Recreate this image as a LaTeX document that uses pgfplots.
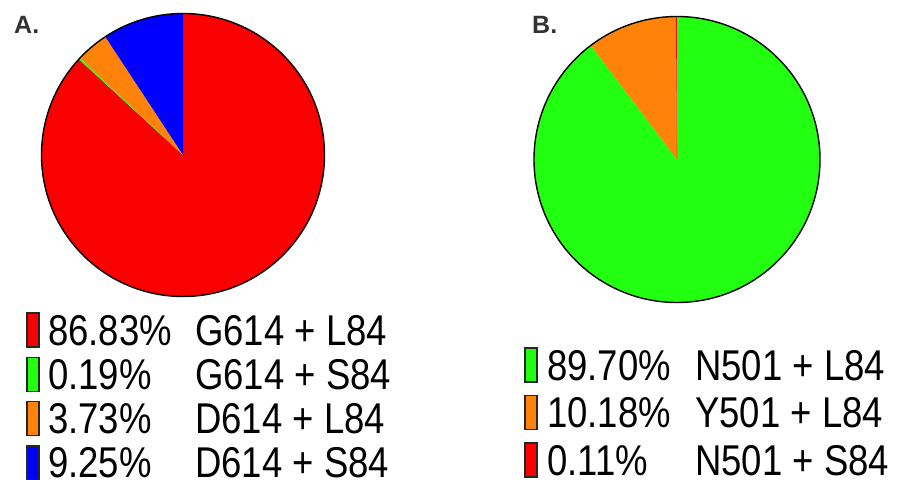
\documentclass[border=0pt]{standalone}
\usepackage{pgfplots}
\pgfplotsset{compat=1.18}
\usepackage{pgfplotstable}
\usepackage{graphicx}
\usepackage{fontspec}
\setmainfont{Liberation Sans}

\definecolor{pieRed}{HTML}{FA0000}
\definecolor{pieGreen}{HTML}{22FF11}
\definecolor{pieOrange}{HTML}{FF820A}
\definecolor{pieBlue}{HTML}{0000FF}
\definecolor{tagGray}{HTML}{333333}

% share of each combination, clockwise from 12 o'clock
\pgfplotstableread[col sep=comma]{
pct,color,label
86.83,pieRed,G614 + L84
0.19,pieGreen,G614 + S84
3.73,pieOrange,D614 + L84
9.25,pieBlue,D614 + S84
}\tableA

\pgfplotstableread[col sep=comma]{
pct,color,label
89.70,pieGreen,N501 + L84
10.18,pieOrange,Y501 + L84
0.11,pieRed,N501 + S84
}\tableB

\newcommand\legfont{\fontsize{36.5}{40}\selectfont}

% #1 table, #2 centre x, #3 centre y, #4 radius
\newcommand\piechart[4]{%
  \pgfplotstablegetrowsof{#1}%
  \pgfmathtruncatemacro\lastrow{\pgfplotsretval-1}%
  \xdef\pieacc{0}%
  \foreach \i in {0,...,\lastrow}{%
    \pgfplotstablegetelem{\i}{pct}\of{#1}\let\slicepct\pgfplotsretval
    \pgfplotstablegetelem{\i}{color}\of{#1}\let\slicecolor\pgfplotsretval
    \pgfmathsetmacro\sa{90-3.6*\pieacc}%
    \pgfmathsetmacro\ea{90-3.6*(\pieacc+\slicepct)}%
    \fill[fill=\slicecolor] (axis cs:#2,#3) -- ++(\sa:#4)
      arc[start angle=\sa, end angle=\ea, radius=#4] -- cycle;
    \pgfmathsetmacro\nacc{\pieacc+\slicepct}\xdef\pieacc{\nacc}%
  }%
  \draw[line width=1.4pt] (axis cs:#2,#3) circle[radius=#4];
}

% #1 table, #2 box x, #3 percent x, #4 label x, #5 first baseline, #6 row pitch
\newcommand\pielegend[6]{%
  \pgfplotstablegetrowsof{#1}%
  \pgfmathtruncatemacro\lastrow{\pgfplotsretval-1}%
  \foreach \i in {0,...,\lastrow}{%
    \pgfplotstablegetelem{\i}{pct}\of{#1}\let\slicepct\pgfplotsretval
    \pgfplotstablegetelem{\i}{color}\of{#1}\let\slicecolor\pgfplotsretval
    \pgfplotstablegetelem{\i}{label}\of{#1}\let\slicelabel\pgfplotsretval
    \pgfmathsetmacro\yb{#5+#6*\i}%
    \pgfmathsetmacro\ytop{\yb-32}%
    \pgfmathsetmacro\ybot{\yb+2}%
    \pgfmathsetmacro\xr{#2+12}%
    \filldraw[fill=\slicecolor, draw=black!85, line width=1.2pt]
      (axis cs:#2,\ytop) rectangle (axis cs:\xr,\ybot);
    \node[anchor=base west, inner sep=0pt, font=\legfont] at (axis cs:#3,\yb)
      {\scalebox{1}[1.18]{\slicepct\%}};
    \node[anchor=base west, inner sep=0pt, font=\legfont] at (axis cs:#4,\yb)
      {\scalebox{1}[1.18]{\slicelabel}};
  }%
}

\begin{document}
\begin{tikzpicture}
\path[use as bounding box] (0,0) rectangle (899pt,479pt);
\begin{axis}[
    at={(0,0)}, anchor=south west,
    width=899pt, height=479pt, scale only axis,
    xmin=0, xmax=899, ymin=0, ymax=479,
    y dir=reverse,
    hide axis, clip=false,
]
\pgfplotsextra{%
  \piechart{\tableA}{183}{155}{141.5pt}
  \piechart{\tableB}{677}{159.5}{143pt}
  \pielegend{\tableA}{27}{48}{195}{345}{44.3}
  \pielegend{\tableB}{525}{547}{695}{380}{47.5}
  \node[anchor=base west, inner sep=0pt, text=tagGray,
        font=\fontsize{25}{28}\selectfont\bfseries] at (axis cs:14,33) {A.};
  \node[anchor=base west, inner sep=0pt, text=tagGray,
        font=\fontsize{25}{28}\selectfont\bfseries] at (axis cs:532,33) {B.};
}
\end{axis}
\end{tikzpicture}
\end{document}
